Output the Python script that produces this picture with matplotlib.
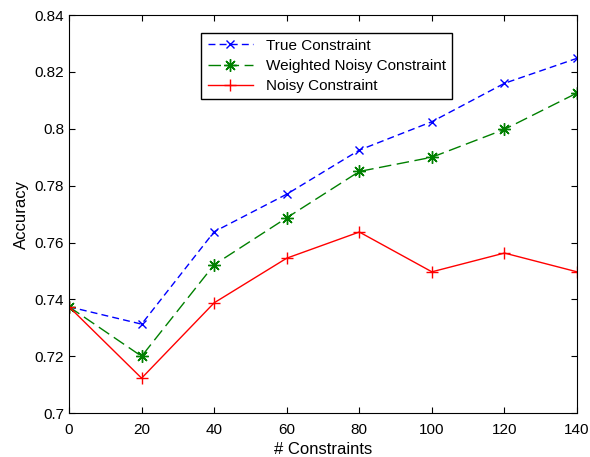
import matplotlib
matplotlib.use('Agg')
import matplotlib.pyplot as plt

plt.rcParams['font.family'] = ['Liberation Sans', 'DejaVu Sans']

# data
constraints = [0, 20, 40, 60, 80, 100, 120, 140]
true_acc = [0.7374, 0.7313, 0.7638, 0.7770, 0.7925, 0.8025, 0.8160, 0.8248]
weighted_acc = [0.7374, 0.7200, 0.7522, 0.7687, 0.7850, 0.7900, 0.7998, 0.8126]
noisy_acc = [0.7374, 0.7123, 0.7388, 0.7545, 0.7637, 0.7497, 0.7563, 0.7497]

fig = plt.figure(figsize=(5.9, 4.57), dpi=100)
ax = fig.add_axes([0.117, 0.096, 0.861, 0.871])

ax.plot(constraints, true_acc, color='blue', linestyle=(0, (5, 3)), lw=1,
        marker='x', ms=6, mew=1, label='True Constraint')
ax.plot(constraints, weighted_acc, color='green', linestyle=(0, (9, 4)), lw=1,
        marker=(8, 2, 0), ms=9, mew=1, label='Weighted Noisy Constraint')
ax.plot(constraints, noisy_acc, color='red', linestyle='-', lw=1,
        marker='+', ms=9, mew=1, label='Noisy Constraint')

ax.set_xlim(0, 140)
ax.set_ylim(0.7, 0.84)
ax.set_xticks(range(0, 141, 20))
ax.set_yticks([0.7, 0.72, 0.74, 0.76, 0.78, 0.8, 0.82, 0.84])
ax.set_yticklabels(['0.7', '0.72', '0.74', '0.76', '0.78', '0.8', '0.82', '0.84'])
ax.tick_params(direction='in', top=True, right=True, labelsize=11, length=4)
ax.tick_params(axis='x', pad=7)
ax.set_xlabel('# Constraints', fontsize=12, labelpad=4)
ax.set_ylabel('Accuracy', fontsize=12)

leg = ax.legend(loc='upper center', bbox_to_anchor=(0.507, 0.975), fontsize=11,
                fancybox=False, edgecolor='black', framealpha=1,
                handlelength=3, borderpad=0.4, labelspacing=0.4)
leg.get_frame().set_linewidth(1)

fig.savefig('out.png', dpi=100)
